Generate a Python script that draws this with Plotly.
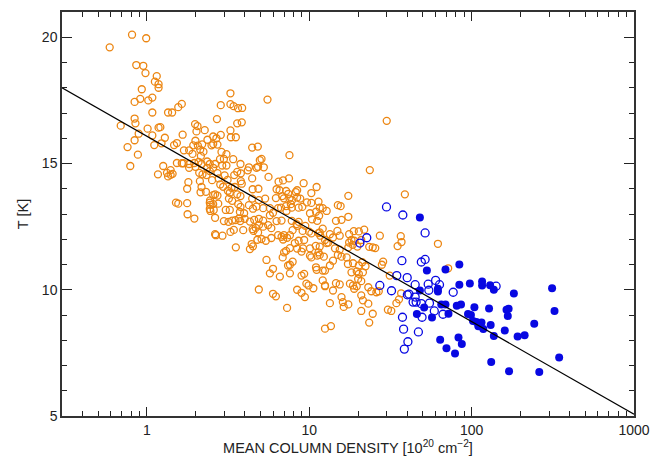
import numpy as np
import plotly.graph_objects as go

# ---------------- data ----------------
# Orange open circles: column density [1e20 cm^-2], temperature [K]
orange_N = [
    0.81, 0.99, 0.59, 0.86, 0.95, 0.98, 1.15, 1.12, 1.18, 1.18,
    0.93, 0.91, 0.84, 1.02, 1.08, 1.64, 1.56, 1.35, 1.43, 1.08,
    0.84, 0.85, 0.69, 1.01, 1.18, 1.21, 0.89, 1.08, 1.29, 0.84,
    1.11, 1.23, 1.47, 1.53, 1.66, 0.76, 0.88, 0.79, 1.26, 1.17,
    1.40, 1.44, 1.53, 1.64, 1.68, 1.69, 1.98, 2.05, 2.02, 2.27,
    1.99, 2.36, 1.93, 2.06, 2.19, 2.13, 2.23, 1.82, 1.91, 2.15,
    1.82, 1.96, 2.08, 2.17, 2.35, 2.44, 2.35, 1.82, 1.99, 2.20,
    2.10, 1.33, 1.40, 2.50, 2.56, 2.56,
    # zoom region 2
    3.27, 5.53, 2.85, 3.27, 3.42, 3.64, 3.86, 2.70, 3.60, 3.84,
    3.27, 2.85, 3.29, 3.53, 2.68, 2.56, 2.72, 4.45, 4.82, 7.55,
    2.88, 3.09, 2.82, 2.98, 3.40, 4.96, 5.08, 4.84, 3.77, 2.91,
    3.09, 2.63, 5.25, 4.25, 4.73, 3.60, 3.79, 4.18, 2.72, 3.01,
    2.44, 5.61, 4.45, 3.45, 3.79, 3.84, 3.14, 2.77, 2.52, 6.47,
    6.90, 7.50, 2.83, 2.95, 3.32, 3.48, 4.48, 4.86, 6.56, 6.29,
    7.20, 7.43, 8.42, 8.26, 9.23, 11.1, 10.3, 2.56, 2.72, 3.15,
    3.24, 3.60, 3.77, 3.20, 3.35, 4.45, 4.89, 5.35, 6.23, 6.81,
    6.98, 7.55, 7.84, 8.42, 8.80, 9.68, 10.3, 11.4, 11.6, 2.44,
    2.56, 2.75, 3.65, 3.77, 4.25, 4.73, 5.20, 5.72, 6.43, 6.70,
    7.20, 7.70, 8.60, 9.06, 3.06, 3.24,
    # zoom region 3
    2.58, 3.97, 3.74, 7.24, 7.80, 10.1, 11.0, 2.44, 4.50,
    2.63, 2.98, 3.18, 3.35, 3.51, 3.70, 3.76, 4.00, 4.31, 4.58,
    4.89, 5.20, 5.72, 5.98, 6.29, 6.75, 7.80, 8.35, 8.60, 10.4,
    11.2, 11.5, 2.66, 2.92, 3.27, 3.43, 3.92, 4.48, 4.68, 4.53,
    4.84, 4.91, 5.20, 5.58, 5.84, 3.53, 4.42, 4.31, 4.50, 4.79,
    5.08, 5.40, 5.84, 6.43, 6.75, 6.90, 7.30, 6.98, 7.60, 7.90,
    8.42, 9.10, 9.45, 8.15, 8.60, 9.30, 9.97, 10.3, 11.4, 11.7,
    10.1, 10.96, 11.6, 7.60, 7.20, 7.00, 6.86, 8.42, 8.96, 9.15,
    10.1, 10.3, 11.2, 11.4, 5.45, 7.90, 7.60, 7.40, 5.98, 5.72,
    6.59, 7.60, 8.96, 9.30, 11.0, 11.1, 12.1, 12.5, 9.60, 9.90,
    8.42, 8.96, 9.40, 10.6, 4.89, 5.98, 6.23, 7.30,
    # zoom region 4
    1.35, 1.80, 1.77, 2.33, 2.12, 2.17, 2.14, 2.31, 1.51, 1.56,
    1.77, 1.78, 1.96, 2.45, 2.46, 2.46, 2.63, 2.63,
    # zoom region 5
    30.0, 23.6, 38.8, 17.4, 12.1, 12.8, 15.0, 15.6, 14.6, 15.8,
    17.4, 12.1, 13.4, 14.0, 11.6, 12.5, 13.1, 14.9, 15.4, 17.6,
    18.2, 18.8, 20.2, 21.8, 27.2, 18.9, 19.8, 20.9, 36.6, 37.0,
    35.0, 17.6, 17.4, 18.5, 14.4, 15.4, 12.8, 23.4, 24.6, 25.5,
    15.0, 15.8, 17.0, 11.6, 12.3, 14.0, 13.4, 17.3, 18.6, 20.2,
    21.2, 22.2, 28.5, 28.0, 18.2, 19.6, 20.2, 21.4, 12.5, 12.1,
    12.5, 14.6, 15.4, 14.0, 17.8, 18.6, 19.6, 18.9, 20.0, 20.9,
    23.1, 24.1, 25.9, 26.8, 31.3, 30.5, 32.0, 34.4, 35.7, 36.8,
    15.8, 16.1, 16.3, 17.4, 13.4, 20.9, 21.4, 23.1, 24.6, 23.4,
    20.9, 12.5, 13.6, 62.0, 71.7,
]
orange_T = [
    20.10, 19.96, 19.60, 18.90, 18.87, 18.58, 18.46, 18.24, 18.14, 18.00,
    17.94, 17.56, 17.44, 17.50, 17.61, 17.36, 17.23, 17.02, 17.02, 17.02,
    16.78, 16.59, 16.50, 16.38, 16.42, 16.44, 16.18, 16.11, 16.02, 15.92,
    15.73, 15.80, 15.73, 15.81, 16.14, 15.65, 15.35, 14.90, 14.90, 14.57,
    14.74, 14.59, 15.02, 15.01, 15.01, 15.52, 16.56, 16.48, 16.27, 16.32,
    15.90, 15.94, 15.72, 15.71, 15.76, 15.55, 15.47, 15.52, 15.38, 15.30,
    14.98, 15.02, 15.06, 14.98, 15.08, 14.98, 14.83, 14.83, 14.87, 14.57,
    14.63, 14.63, 14.55, 15.72, 16.07, 14.83,
    # zoom region 2
    17.78, 17.53, 17.31, 17.35, 17.27, 17.19, 17.20, 16.76, 16.59, 16.63,
    16.31, 16.13, 16.04, 16.04, 16.00, 15.77, 15.75, 15.63, 15.67, 15.33,
    15.46, 15.37, 15.17, 15.18, 15.17, 15.13, 15.18, 14.87, 14.98, 14.92,
    14.92, 14.98, 14.85, 14.85, 14.83, 14.67, 14.61, 14.73, 14.62, 14.53,
    14.70, 14.47, 14.41, 14.54, 14.30, 14.20, 14.35, 14.41, 14.34, 14.28,
    14.33, 14.41, 14.17, 14.08, 14.04, 14.07, 13.98, 14.00, 13.94, 13.98,
    13.91, 13.80, 13.94, 13.87, 14.22, 14.07, 13.83, 13.75, 13.73, 13.92,
    13.84, 13.78, 13.71, 13.61, 13.52, 13.61, 13.55, 13.61, 13.63, 13.71,
    13.62, 13.61, 13.55, 13.65, 13.61, 13.46, 13.44, 13.49, 13.25, 13.45,
    13.39, 13.41, 13.39, 13.28, 13.35, 13.29, 13.23, 13.23, 13.23, 13.25,
    13.31, 13.39, 13.25, 13.28, 13.16, 13.16,
    # zoom region 3
    13.16, 13.03, 13.08, 13.12, 13.25, 13.03, 13.09, 13.20, 13.21,
    12.85, 12.72, 12.69, 12.74, 12.76, 12.83, 12.72, 12.81, 12.70, 12.77,
    12.81, 12.74, 12.95, 13.05, 12.72, 12.74, 12.73, 12.60, 12.69, 12.79,
    12.73, 12.93, 12.16, 12.14, 12.29, 12.37, 12.36, 12.40, 12.45, 12.33,
    12.27, 12.57, 12.50, 12.56, 12.44, 11.68, 11.81, 11.61, 11.72, 11.98,
    12.01, 11.94, 12.05, 12.16, 12.10, 11.99, 12.06, 12.16, 12.16, 12.36,
    12.53, 12.33, 12.53, 11.85, 11.94, 11.97, 12.30, 12.23, 12.24, 12.14,
    11.64, 11.74, 11.71, 11.65, 11.54, 11.48, 11.28, 11.63, 11.51, 11.64,
    11.35, 11.28, 11.35, 11.48, 11.18, 11.11, 10.99, 10.96, 10.83, 10.65,
    10.52, 10.65, 10.56, 10.63, 10.89, 10.79, 10.76, 10.14, 10.24, 10.17,
    10.00, 9.88, 9.71, 10.06, 10.01, 9.84, 9.74, 9.28,
    # zoom region 4
    14.49, 14.26, 14.00, 14.54, 14.30, 14.07, 13.86, 13.88, 13.45, 13.41,
    13.43, 12.99, 12.82, 13.54, 13.36, 13.12, 13.78, 12.20,
    # zoom region 5
    16.69, 14.74, 13.78, 13.72, 13.23, 13.12, 13.35, 13.31, 12.73, 12.77,
    12.89, 12.42, 12.20, 12.07, 12.27, 11.97, 11.87, 12.33, 12.14, 12.20,
    11.97, 12.32, 12.31, 12.38, 12.14, 11.94, 11.71, 11.97, 12.12, 11.89,
    11.73, 11.87, 11.68, 11.78, 11.64, 11.59, 11.85, 11.70, 11.68, 11.65,
    11.38, 11.31, 11.28, 11.38, 11.31, 11.15, 10.96, 11.02, 11.05, 10.96,
    11.09, 10.93, 11.11, 10.99, 10.69, 10.73, 10.63, 10.69, 10.76, 10.37,
    10.17, 10.26, 10.21, 9.97, 10.24, 10.17, 10.14, 10.04, 10.43, 10.34,
    10.10, 9.94, 9.90, 9.94, 10.56, 9.21, 9.16, 9.47, 9.62, 9.86,
    9.71, 9.51, 9.32, 9.42, 9.47, 9.78, 9.58, 9.45, 9.05, 8.70,
    9.16, 8.46, 8.56, 11.82, 10.85,
]

# Blue open circles
blue_open_N = [
    29.9, 37.7, 51.7, 22.6, 20.5, 37.2, 49.0, 51.7, 34.6, 40.1,
    27.2, 32.1, 44.9, 54.0, 60.0, 63.4, 54.5, 77.0, 141.5, 40.2,
    41.1, 44.9, 45.5, 43.6, 49.0, 55.0, 58.9, 66.6, 49.5, 37.5,
    38.1, 47.0, 40.5, 38.5,
]
blue_open_T = [
    13.28, 12.96, 12.25, 12.06, 11.85, 11.15, 11.10, 11.20, 10.56, 10.48,
    10.17, 9.96, 10.20, 10.22, 10.37, 10.20, 9.98, 9.90, 10.14, 9.80,
    9.83, 9.71, 9.51, 9.51, 9.45, 9.47, 9.16, 9.03, 8.91, 8.91,
    8.44, 8.33, 7.94, 7.65,
]

# Blue filled circles
blue_fill_N = [
    84, 69, 62, 62, 84, 97.5, 116, 116, 130, 137,
    182, 313, 324, 65, 69, 81, 86, 57, 72, 104,
    128, 164, 169, 167, 95, 99, 102, 107, 115, 110,
    118, 131, 137, 160, 192, 212, 243, 346, 64, 83,
    87, 70, 79, 132, 170, 261, 48, 53, 48, 51,
    46,
]
blue_fill_T = [
    11.00, 10.80, 10.04, 9.93, 10.20, 10.25, 10.33, 10.17, 10.18, 10.00,
    9.85, 10.06, 9.16, 9.42, 9.42, 9.37, 9.42, 8.90, 9.05, 9.31,
    9.26, 9.21, 9.25, 8.96, 9.04, 9.00, 8.76, 8.72, 8.70, 8.55,
    8.45, 8.60, 8.17, 8.39, 8.15, 8.20, 8.65, 7.32, 8.02, 8.11,
    7.85, 7.68, 7.48, 7.14, 6.77, 6.74, 12.86, 10.76, 9.97, 9.30,
    9.04,
]

# Linear fit T = a + b*log10(N)
fit_a = 16.08
fit_b = -3.67

x_ticks = [1, 10, 100, 1000]
y_ticks = [5, 10, 15, 20]
x_range = [0.3, 1000]
y_range = [5, 21]

ORANGE = "rgb(236,134,18)"
BLUE = "rgb(8,8,226)"
FONT = "Liberation Sans, Arial, sans-serif"

fig = go.Figure()
fig.add_trace(go.Scatter(
    x=orange_N, y=orange_T, mode="markers",
    marker=dict(symbol="circle-open", size=7, color=ORANGE,
                line=dict(width=1.3, color=ORANGE)),
))
fig.add_trace(go.Scatter(
    x=blue_open_N, y=blue_open_T, mode="markers",
    marker=dict(symbol="circle-open", size=8, color=BLUE,
                line=dict(width=1.3, color=BLUE)),
))
fig.add_trace(go.Scatter(
    x=blue_fill_N, y=blue_fill_T, mode="markers",
    marker=dict(symbol="circle", size=8, color=BLUE, line=dict(width=0)),
))
fit_x = np.array(x_range, dtype=float)
fig.add_trace(go.Scatter(
    x=fit_x, y=fit_a + fit_b * np.log10(fit_x), mode="lines",
    line=dict(color="black", width=1.2),
))

minor_x = [m * 10.0 ** e for e in range(-1, 3) for m in range(2, 10)
           if x_range[0] <= m * 10.0 ** e <= x_range[1]]

axis_common = dict(
    showgrid=False, zeroline=False, showline=True, linecolor="#333",
    linewidth=1.5, mirror="ticks", ticks="inside", tickcolor="#222",
    tickwidth=1.2, tickfont=dict(family=FONT, size=14, color="#222"),
)

# The page body adds an 8 px offset at top/left, so the figure is 8 px smaller.
fig.update_layout(
    width=659, height=452,
    margin=dict(l=54, r=33, t=2, b=44),
    paper_bgcolor="white", plot_bgcolor="white",
    showlegend=False,
    xaxis=dict(
        type="log", range=[np.log10(x_range[0]), np.log10(x_range[1])],
        tickvals=x_ticks, ticktext=[str(v) for v in x_ticks], ticklen=9,
        minor=dict(tickvals=minor_x, ticks="inside", ticklen=5,
                   tickcolor="#222", tickwidth=1.2, showgrid=False),
        title=dict(text="MEAN COLUMN DENSITY [10<sup>20</sup> cm<sup>−2</sup>]",
                   font=dict(family=FONT, size=14.5, color="#222"), standoff=3),
        **axis_common,
    ),
    yaxis=dict(
        range=y_range, tickvals=y_ticks, ticktext=[str(v) for v in y_ticks],
        ticklen=10,
        minor=dict(dtick=1, ticks="inside", ticklen=5, tickcolor="#222",
                   tickwidth=1.2, showgrid=False),
        title=dict(text="T [K]", font=dict(family=FONT, size=14.5, color="#222"),
                   standoff=10),
        **axis_common,
    ),
)

fig.write_html("out.html")
